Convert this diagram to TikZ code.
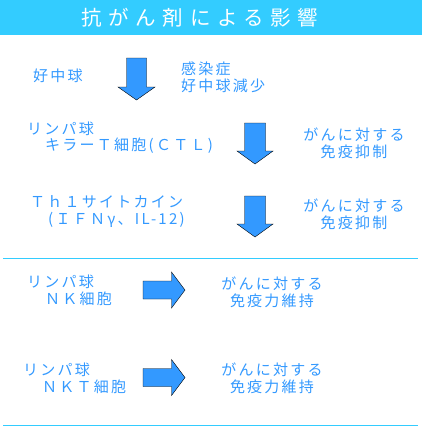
\documentclass[tikz,border=0pt]{standalone}
\usepackage{fontspec}
\setmainfont{Noto Sans CJK JP}[LetterSpace=15]
\newfontfamily\titlefont{Noto Sans CJK JP}[LetterSpace=32]
\definecolor{headcyan}{HTML}{33CCFF}
\definecolor{arrowblue}{HTML}{3399FF}
\tikzset{
  lbl/.style={anchor=west,inner sep=0pt,text=arrowblue,
    font=\fontsize{15}{17}\selectfont},
  ctr/.style={align=center,inner sep=0pt,text=arrowblue,
    font=\fontsize{15}{17}\selectfont},
  bigarrow/.style={fill=arrowblue},
  rule/.style={headcyan,line width=1pt}
}

\begin{document}
\begin{tikzpicture}[x=1pt,y=-1pt]
\useasboundingbox (0,0) rectangle (422,426);
% header
\fill [headcyan] (0,0) rectangle (422,35);
\node [inner sep=0pt,text=white,font=\titlefont\fontsize{20.5}{24}\selectfont]
  (title) at (200,18) {抗がん剤による影響};
% neutrophils
\node [lbl] (neu) at (33,76) {好中球};
\draw [bigarrow] (126.5,58) -- (146.5,58) -- (146.5,87) -- (155,87) --
  (136.5,100) -- (118,87) -- (126.5,87) -- cycle;
\node [lbl] (inf1) at (181,68.5) {感染症};
\node [lbl] (inf2) at (181,85.5) {好中球減少};
% CTL
\node [lbl] (ctla) at (27,128.5) {リンパ球};
\node [lbl] (ctlb) at (45,146) {キラーＴ細胞(ＣＴＬ)};
\draw [bigarrow] (244.5,123) -- (265.5,123) -- (265.5,151) -- (273,151) --
  (255,164) -- (237,151) -- (244.5,151) -- cycle;
\node [ctr] (ctlr) at (354,143) {がんに対する\\免疫抑制};
% Th1 cytokines
\node [lbl] (tha) at (30,201.5) {Ｔｈ１サイトカイン};
\node [lbl] (thb) at (48,219.5) {(ＩＦＮγ、IL-12)};
\draw [bigarrow] (244.5,196) -- (265.5,196) -- (265.5,224) -- (273,224) --
  (255,237) -- (237,224) -- (244.5,224) -- cycle;
\node [ctr] (thr) at (354,214.5) {がんに対する\\免疫抑制};
\draw [rule] (3,258) -- (418,258);
% NK cells
\node [lbl] (nka) at (27,281.5) {リンパ球};
\node [lbl] (nkb) at (45,299) {ＮＫ細胞};
\draw [bigarrow] (143,281) -- (171.5,281) -- (171.5,272) -- (185,290) --
  (171.5,308) -- (171.5,299) -- (143,299) -- cycle;
\node [ctr] (nkr) at (272,292) {がんに対する\\免疫力維持};
% NKT cells
\node [lbl] (nkta) at (23,370) {リンパ球};
\node [lbl] (nktb) at (42,386.5) {ＮＫＴ細胞};
\draw [bigarrow] (143,368.5) -- (171.5,368.5) -- (171.5,359.5) -- (185,377.5) --
  (171.5,395.5) -- (171.5,386.5) -- (143,386.5) -- cycle;
\node [ctr] (nktr) at (272,378.5) {がんに対する\\免疫力維持};
\draw [rule] (3,425) -- (418,425);
\end{tikzpicture}
\end{document}
